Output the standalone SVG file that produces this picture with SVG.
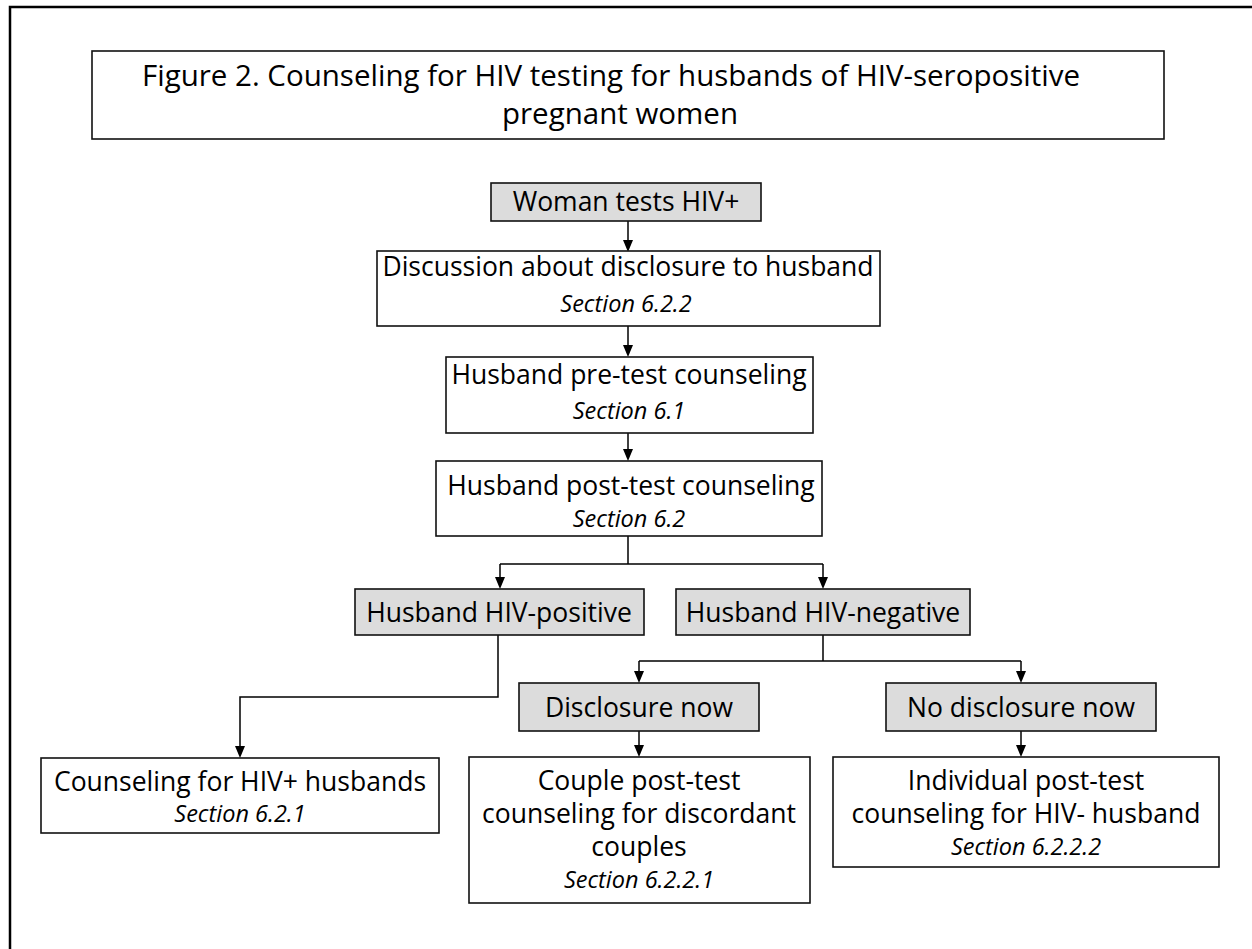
<svg xmlns="http://www.w3.org/2000/svg" width="1252" height="949" viewBox="0 0 1252 949">
<style>
text{font-family:"Open Sans","Noto Sans","Liberation Sans",sans-serif;fill:#000;text-anchor:middle}
.t{font-size:29.5px}
.m{font-size:26.5px}
.s{font-size:23.5px;font-style:italic}
.box{fill:#fff;stroke:#111;stroke-width:1.6}
.gray{fill:#dcdcdc;stroke:#111;stroke-width:1.6}
.ln{fill:none;stroke:#000;stroke-width:1.5}
.ah{fill:#000}
</style>
<rect width="1252" height="949" fill="#fff"/>
<g id="frame">
<path d="M10,949 V7 H1252" fill="none" stroke="#000" stroke-width="2.5"/>
</g>
<g id="title">
<rect x="92" y="51" width="1072" height="88" class="box" stroke-width="2"/>
<text x="611" y="86" class="t">Figure 2. Counseling for HIV testing for husbands of HIV-seropositive</text>
<text x="620" y="124" class="t">pregnant women</text>
</g>
<g id="connectors">
<path class="ln" d="M628,221 V240"/>
<path class="ln" d="M628,326 V345"/>
<path class="ln" d="M628,433 V449"/>
<path class="ln" d="M628,536 V564 M500,564 H823 M500,564 V577 M823,564 V577"/>
<path class="ln" d="M498,635 V697 H240 V746"/>
<path class="ln" d="M823,635 V661 M639,661 H1021 M639,661 V671 M1021,661 V671"/>
<path class="ln" d="M639,731 V746"/>
<path class="ln" d="M1021,731 V746"/>
<path class="ah" d="M623,240 h10 l-5,12 z"/>
<path class="ah" d="M623,345 h10 l-5,12 z"/>
<path class="ah" d="M623,449 h10 l-5,12 z"/>
<path class="ah" d="M495,577 h10 l-5,12 z"/>
<path class="ah" d="M818,577 h10 l-5,12 z"/>
<path class="ah" d="M235,746 h10 l-5,12 z"/>
<path class="ah" d="M634,671 h10 l-5,12 z"/>
<path class="ah" d="M1016,671 h10 l-5,12 z"/>
<path class="ah" d="M634,745 h10 l-5,12 z"/>
<path class="ah" d="M1016,745 h10 l-5,12 z"/>
</g>
<g id="n-woman">
<rect x="491" y="183" width="270" height="38" class="gray"/>
<text x="626" y="211" class="m">Woman tests HIV+</text>
</g>
<g id="n-discussion">
<rect x="377" y="251" width="503" height="75" class="box"/>
<text x="628" y="276" class="m">Discussion about disclosure to husband</text>
<text x="626" y="312" class="s">Section 6.2.2</text>
</g>
<g id="n-pretest">
<rect x="446" y="357" width="367" height="76" class="box"/>
<text x="629" y="384" class="m">Husband pre-test counseling</text>
<text x="629" y="419" class="s">Section 6.1</text>
</g>
<g id="n-posttest">
<rect x="436" y="461" width="386" height="75" class="box"/>
<text x="631" y="495" class="m">Husband post-test counseling</text>
<text x="629" y="527" class="s">Section 6.2</text>
</g>
<g id="n-hivpos">
<rect x="355" y="589" width="289" height="46" class="gray"/>
<text x="499" y="622" class="m">Husband HIV-positive</text>
</g>
<g id="n-hivneg">
<rect x="676" y="589" width="294" height="46" class="gray"/>
<text x="823" y="622" class="m">Husband HIV-negative</text>
</g>
<g id="n-disc">
<rect x="519" y="683" width="240" height="48" class="gray"/>
<text x="639" y="717" class="m">Disclosure now</text>
</g>
<g id="n-nodisc">
<rect x="886" y="683" width="270" height="48" class="gray"/>
<text x="1021" y="717" class="m">No disclosure now</text>
</g>
<g id="n-counselpos">
<rect x="41" y="758" width="398" height="75" class="box"/>
<text x="240" y="791" class="m">Counseling for HIV+ husbands</text>
<text x="240" y="822" class="s">Section 6.2.1</text>
</g>
<g id="n-couple">
<rect x="469" y="757" width="341" height="146" class="box"/>
<text x="639" y="790" class="m">Couple post-test</text>
<text x="639" y="823" class="m">counseling for discordant</text>
<text x="639" y="856" class="m">couples</text>
<text x="639" y="888" class="s">Section 6.2.2.1</text>
</g>
<g id="n-individual">
<rect x="833" y="757" width="386" height="110" class="box"/>
<text x="1026" y="790" class="m">Individual post-test</text>
<text x="1026" y="823" class="m">counseling for HIV- husband</text>
<text x="1026" y="855" class="s">Section 6.2.2.2</text>
</g>
</svg>
